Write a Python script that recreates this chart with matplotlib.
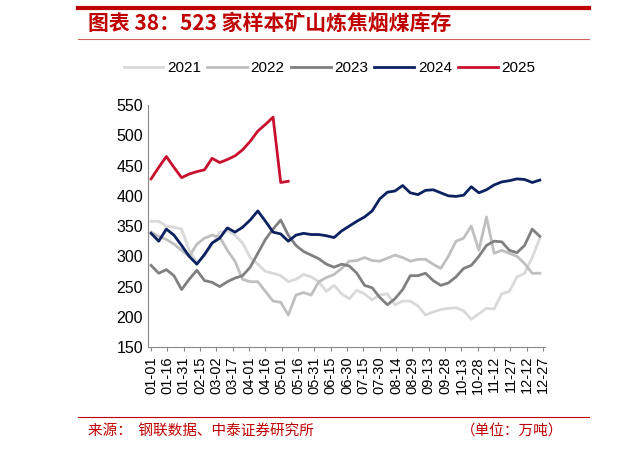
import matplotlib
matplotlib.use("Agg")
import matplotlib.pyplot as plt
import numpy as np

plt.rcParams['font.family'] = ['Liberation Sans', 'Noto Sans CJK SC', 'DejaVu Sans']

tick_labels = ["01-01","01-16","01-31","02-15","03-02","03-17","04-01","04-16","05-01","05-16",
               "05-31","06-15","06-30","07-15","07-30","08-14","08-29","09-13","09-28","10-13",
               "10-28","11-12","11-27","12-12","12-27"]
s2021 = [358,358,350,348,345,310,290,300,320,340,342,335,322,298,287,275,272,268,258,262,270,266,258,242,252,238,
         230,244,238,228,236,238,220,226,226,218,203,208,212,214,215,210,196,205,214,213,238,242,266,272,298,330]
s2022 = [340,333,328,320,310,300,320,330,335,332,310,292,262,258,258,242,226,224,203,236,240,236,258,265,270,280,
         292,293,298,293,292,297,302,298,292,295,295,287,280,300,325,330,350,310,365,305,310,305,300,288,272,272]
s2023 = [285,272,278,268,245,262,277,260,257,250,258,264,268,282,305,328,345,360,335,318,308,302,296,287,282,287,
         284,272,252,248,232,220,230,245,268,268,272,260,252,256,266,280,285,300,318,325,324,310,306,318,345,333]
s2024 = [338,325,345,335,318,300,287,303,322,330,347,340,348,360,375,358,340,337,325,335,338,336,336,334,331,342,
         350,358,365,375,395,406,408,417,405,402,409,410,405,400,399,401,415,405,410,418,423,425,428,427,422,426]
s2025 = [428,447,465,447,430,436,440,443,462,455,460,466,476,490,507,518,530,422,424]

series = [("2021", s2021, "#d9d9d9"), ("2022", s2022, "#bfbfbf"), ("2023", s2023, "#808080"),
          ("2024", s2024, "#0c2160"), ("2025", s2025, "#c8102e")]

fig = plt.figure(figsize=(6.4, 4.49), dpi=100)
ax = fig.add_axes([0.231, 0.227, 0.621, 0.539])
for name, vals, c in series:
    x = np.arange(len(vals)) * 7
    ax.plot(x, vals, color=c, lw=2, label=name)

ax.set_xlim(-3, 362)
ax.set_ylim(150, 550)
ax.set_yticks(range(150, 551, 50))
ax.set_xticks(np.arange(len(tick_labels)) * 15)
ax.set_xticklabels(tick_labels, rotation=90, fontsize=10.5)
ax.tick_params(axis='y', labelsize=11.5, length=0)
ax.tick_params(axis='x', length=3, color="#888888")
for sp in ["top", "right"]:
    ax.spines[sp].set_visible(False)
ax.spines["left"].set_color("#888888")
ax.spines["bottom"].set_color("#888888")

fig.legend(loc="center", bbox_to_anchor=(0.515, 0.848), ncol=5, frameon=False, fontsize=11,
           handlelength=2.6, columnspacing=0.4, handletextpad=0.25)

fig.add_artist(plt.Line2D([0.122, 0.92], [0.983, 0.983], color="#c00000", lw=3))
fig.add_artist(plt.Line2D([0.122, 0.92], [0.913, 0.913], color="#d06060", lw=0.8))
fig.text(0.138, 0.948, "图表 38：523 家样本矿山炼焦烟煤库存", color="#c00000", fontsize=15,
         fontweight="bold", style="italic", va="center",
         family=['Noto Sans CJK SC', 'DejaVu Sans'])
fig.add_artist(plt.Line2D([0.122, 0.92], [0.072, 0.072], color="#c00000", lw=0.8))
fig.text(0.138, 0.04, "来源：  钢联数据、中泰证券研究所", color="#c00000", fontsize=10.5, va="center",
         family=['Noto Sans CJK SC', 'DejaVu Sans'])
fig.text(0.88, 0.04, "（单位：万吨）", color="#c00000", fontsize=10.5, va="center", ha="right",
         family=['Noto Sans CJK SC', 'DejaVu Sans'])

fig.savefig("out.png", dpi=100)
